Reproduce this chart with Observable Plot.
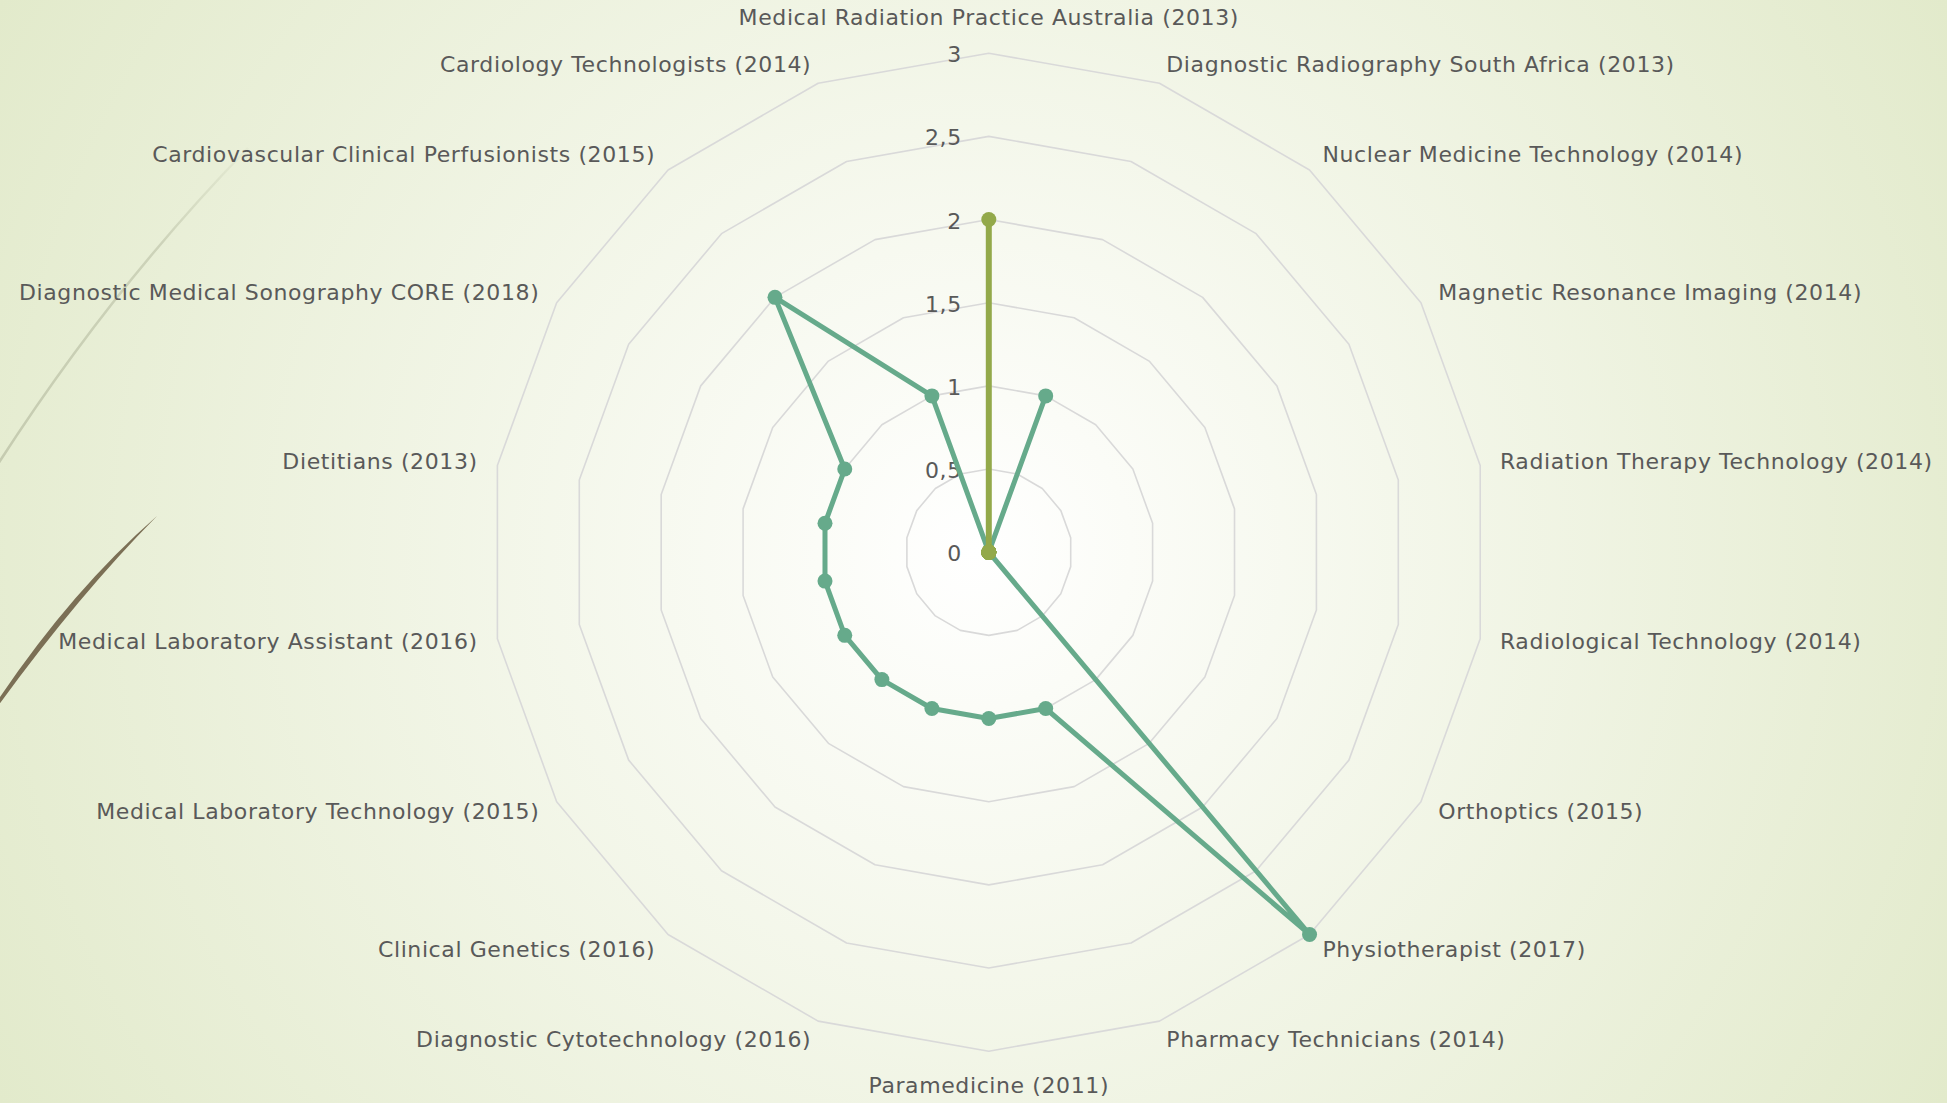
<!DOCTYPE html>
<html><head><meta charset="utf-8">
<script src="https://cdn.jsdelivr.net/npm/d3@7"></script>
<script src="https://cdn.jsdelivr.net/npm/@observablehq/plot@0.6"></script>
<style>
html,body{margin:0;padding:0;width:1947px;height:1103px;overflow:hidden}
body{background:radial-gradient(circle farthest-corner at 50% 50%, #ffffff 0%, #fbfcf7 14%, #e2eacb 100%);position:relative;font-family:"DejaVu Sans",sans-serif}
#decor{position:absolute;left:0;top:0}
#chart{position:absolute;left:0;top:0}
</style></head><body>
<svg id="decor" width="1947" height="1103">
  <defs>
    <linearGradient id="fade" x1="0" y1="0" x2="0" y2="1">
      <stop offset="0" stop-color="#cbd1b8" stop-opacity="0.15"/>
      <stop offset="0.3" stop-color="#c8ceb4" stop-opacity="0.85"/>
      <stop offset="1" stop-color="#c5cbb0" stop-opacity="1"/>
    </linearGradient>
  </defs>
  <path d="M 248 148 Q 110 290 -2 464" fill="none" stroke="url(#fade)" stroke-width="2.5"/>
  <path d="M 157 516 Q 72 590 -2 700 L -2 706 Q 78 596 157 516 Z" fill="#7b6f55"/>
</svg>
<div id="chart"></div>
<script>
const categories = [
  "Medical Radiation Practice Australia (2013)",
  "Diagnostic Radiography South Africa (2013)",
  "Nuclear Medicine Technology (2014)",
  "Magnetic Resonance Imaging (2014)",
  "Radiation Therapy Technology (2014)",
  "Radiological Technology (2014)",
  "Orthoptics (2015)",
  "Physiotherapist (2017)",
  "Pharmacy Technicians (2014)",
  "Paramedicine (2011)",
  "Diagnostic Cytotechnology (2016)",
  "Clinical Genetics (2016)",
  "Medical Laboratory Technology (2015)",
  "Medical Laboratory Assistant (2016)",
  "Dietitians (2013)",
  "Diagnostic Medical Sonography CORE (2018)",
  "Cardiovascular Clinical Perfusionists (2015)",
  "Cardiology Technologists (2014)"
];
const seriesTeal  = [0, 1, 0, 0, 0, 0, 0, 3, 1, 1, 1, 1, 1, 1, 1, 1, 2, 1];
const seriesOlive = [2, 0, 0, 0, 0, 0, 0, 0, 0, 0, 0, 0, 0, 0, 0, 0, 0, 0];
const ringLevels = [0.5, 1, 1.5, 2, 2.5, 3];
const tickValues = [0, 0.5, 1, 1.5, 2, 2.5, 3];
const tickLabels = ["0", "0,5", "1", "1,5", "2", "2,5", "3"];

const W = 1947, H = 1103;
const cx = 988.3, cy = 551.7, maxV = 3, R = 499;
const k = R / maxV; // px per unit
const n = categories.length;
const ang = i => 2 * Math.PI * i / n;
const pt = (i, v) => ({x: v * Math.sin(ang(i)), y: v * Math.cos(ang(i))});

const rings = ringLevels.flatMap(l => d3.range(n + 1).map(i => ({...pt(i % n, l), level: l})));
const closed = vals => d3.range(n + 1).map(i => ({...pt(i % n, vals[i % n]), v: vals[i % n]}));
const tealPts = closed(seriesTeal);
const olivePts = closed(seriesOlive);

const labels = categories.map((c, i) => {
  const a = ang(i), s = Math.sin(a);
  const off = (Math.abs(s) < 0.01 ? 35 : 20) / k;
  return {name: c, x: (maxV + off) * s, y: (maxV + off) * Math.cos(a), side: s > 0.01 ? "r" : s < -0.01 ? "l" : "m"};
});
const ticks = tickValues.map((v, i) => ({x: 0, y: v, label: tickLabels[i]}));

const teal = "#66aa8b", olive = "#93a94a", grid = "#d9d9d9", txt = "#595959";
const fs = 22;

const chart = Plot.plot({
  width: W, height: H,
  margin: 0,
  style: {background: "transparent", fontFamily: "DejaVu Sans, sans-serif", overflow: "visible", letterSpacing: "0.6px"},
  x: {domain: [-cx / k, (W - cx) / k], range: [0, W], axis: null},
  y: {domain: [-(H - cy) / k, cy / k], range: [H, 0], axis: null},
  marks: [
    Plot.line(rings, {x: "x", y: "y", z: "level", stroke: grid, strokeWidth: 1.6}),
    Plot.text(ticks, {x: "x", y: "y", text: "label", textAnchor: "end", dx: -27, dy: 2, fill: txt, fontSize: fs}),
    Plot.line(tealPts, {x: "x", y: "y", stroke: teal, strokeWidth: 5, strokeLinejoin: "round"}),
    Plot.dot(tealPts.slice(0, n), {x: "x", y: "y", r: 7.5, fill: teal}),
    Plot.line(olivePts, {x: "x", y: "y", stroke: olive, strokeWidth: 6, strokeLinejoin: "round"}),
    Plot.dot(olivePts.slice(0, n), {x: "x", y: "y", r: 7.5, fill: olive}),
    Plot.text(labels.filter(d => d.side === "r"), {x: "x", y: "y", text: "name", textAnchor: "start", fill: txt, fontSize: fs}),
    Plot.text(labels.filter(d => d.side === "l"), {x: "x", y: "y", text: "name", textAnchor: "end", fill: txt, fontSize: fs}),
    Plot.text(labels.filter(d => d.side === "m"), {x: "x", y: "y", text: "name", textAnchor: "middle", fill: txt, fontSize: fs})
  ]
});
document.getElementById("chart").appendChild(chart);
</script>
</body></html>
